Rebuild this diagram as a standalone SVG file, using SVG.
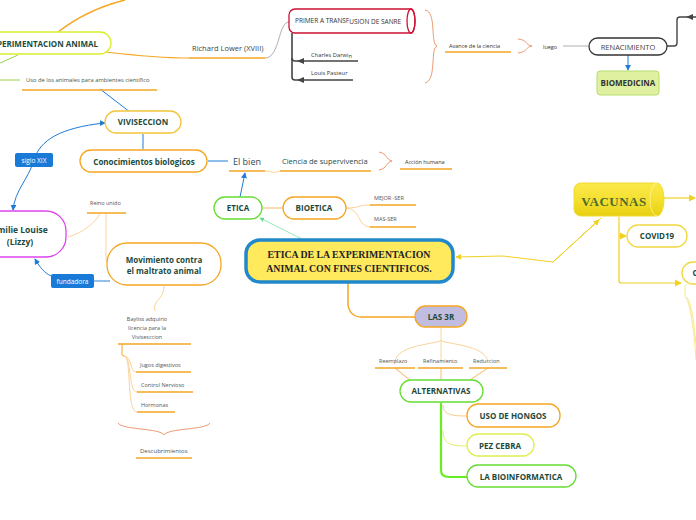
<svg xmlns="http://www.w3.org/2000/svg" width="696" height="520" viewBox="0 0 696 520">
<defs>
<style>
text{font-family:"Open Sans","DejaVu Sans",sans-serif}
.b{font-weight:bold;fill:#1d4a3c;font-size:8px;text-anchor:middle}
.s{fill:#555;font-size:5.5px}
.node{fill:#fff;stroke-width:1.3}
.or{stroke:#f5a623}
.gr{stroke:#66dd33}
.yl{stroke:#f0d840}
.ul{stroke:#f5a623;stroke-width:1.6;fill:none}
.lo{stroke:#fbd39a;stroke-width:1;fill:none}
.bl{stroke:#1f7ad8;stroke-width:1;fill:none}
.br{stroke:#ec9a72;stroke-width:1;fill:none}
</style>
<marker id="ab" viewBox="0 0 8 8" refX="7" refY="4" markerWidth="6" markerHeight="6" orient="auto"><path d="M0,0L8,4L0,8z" fill="#1f7ad8"/></marker>
<marker id="ay" viewBox="0 0 8 8" refX="7" refY="4" markerWidth="6" markerHeight="6" orient="auto"><path d="M0,0L8,4L0,8z" fill="#f0d020"/></marker>
<marker id="ag" viewBox="0 0 8 8" refX="7" refY="4" markerWidth="6" markerHeight="6" orient="auto"><path d="M0,0L8,4L0,8z" fill="#66dd88"/></marker>
<linearGradient id="vg" x1="0" y1="0" x2="0" y2="1"><stop offset="0" stop-color="#fbe94a"/><stop offset="0.5" stop-color="#f5e030"/><stop offset="1" stop-color="#e8cf10"/></linearGradient>
</defs>

<g id="connectors">
<path d="M58,32 C80,15 105,5 125,0" stroke="#f5a623" stroke-width="1.5" fill="none"/>
<path d="M106,52 C140,56 160,58 189,58" stroke="#f5a623" stroke-width="1.2" fill="none"/>
<path d="M265,58 C280,58 278,22 289,22" stroke="#999" stroke-width="0.8" fill="none"/>
<path d="M18,55 L0,63" stroke="#9bd24a" stroke-width="1" fill="none"/>
<path d="M0,80 L20,80" stroke="#9bd24a" stroke-width="1" fill="none"/>
<path d="M100,89 L130,112" class="bl"/>
<path d="M292,33 L292,77 Q292,80 295,80 L353,80" stroke="#444" stroke-width="1.6" fill="none"/>
<path d="M292,58 Q292,61 295,61 L358,61" stroke="#444" stroke-width="1.6" fill="none"/>
<path d="M304,58 L297,61 L304,64z" fill="#444"/>
<path d="M304,77 L297,80 L304,83z" fill="#444"/>
<path d="M563,46 L588,46" stroke="#999" stroke-width="0.8"/>
<path d="M667,46 L674,46 Q677,46 677,43 L677,20 Q677,17 680,17 L696,17" stroke="#444" stroke-width="1.4" fill="none"/>
<path d="M693,14 L686,17 L693,20z" fill="#444"/>
<path d="M628,55 L628,70" class="bl" marker-end="url(#ab)"/>
<path d="M143,134 L143,149" class="bl"/>
<path d="M208,161 L228,161" class="bl"/>
<path d="M265,171 C272,171 272,174 280,171" class="lo"/>
<path d="M240,197 L245,173" class="bl" marker-end="url(#ab)"/>
<path d="M262,208 L283,208" stroke="#fbc88a" stroke-width="1.3"/>
<path d="M346,208 C360,208 358,205 370,205" class="lo"/>
<path d="M346,208 C360,208 358,227 370,227" class="lo"/>
<path d="M302,239 L260,218" stroke="#77e0a0" stroke-width="0.8" fill="none" marker-end="url(#ag)"/>
<path d="M601,218 L553,262 L503,256 L456,257" stroke="#f0d020" stroke-width="1" fill="none" marker-end="url(#ay)"/>
<path d="M553,262 L599,220" stroke="#f0d020" stroke-width="1" fill="none" marker-end="url(#ay)"/>
<path d="M664,198 L695,198" stroke="#f0d020" stroke-width="1.2" fill="none" marker-end="url(#ay)"/>
<path d="M619,217 L619,281 Q619,283 622,283 L681,283" stroke="#f0d020" stroke-width="1.2" fill="none" marker-end="url(#ay)"/>
<path d="M619,236 L626,236" stroke="#f0d020" stroke-width="1.2" fill="none" marker-end="url(#ay)"/>
<path d="M685,285 L685,297 C690,300 694,330 696,360" stroke="#f7e88a" stroke-width="1" fill="none"/>
<path d="M687,297 C692,305 695,330 696,345" stroke="#f7e88a" stroke-width="1" fill="none"/>
<path d="M348,283 L348,305 Q350,317 362,317 L415,317" stroke="#f5a623" stroke-width="1.5" fill="none"/>
<path d="M441,328 L441,340 C441,344 396,344 395,362" class="lo"/>
<path d="M441,340 C441,346 441,352 441,362" class="lo"/>
<path d="M441,340 C441,344 486,344 488,362" class="lo"/>
<path d="M395,368 L410,380 M441,368 L441,380 M488,368 L470,380" stroke="#fbc88a" stroke-width="1.2" fill="none"/>
<path d="M441,403 L441,470 Q441,477 449,477 L467,477" stroke="#66ee22" stroke-width="2.2" fill="none"/>
<path d="M443,405 C443,414 450,416 467,416" stroke="#fbc88a" stroke-width="1" fill="none"/>
<path d="M443,430 C443,444 450,446 467,446" stroke="#e8f060" stroke-width="1" fill="none"/>
<path d="M104,123 C60,128 40,140 34,160 C28,180 15,190 13,210" class="bl" marker-end="url(#ab)"/>
<path d="M104,123 L105,123" class="bl" marker-end="url(#ab)"/>
<path d="M110,281 C100,281 98,281 94,281" class="bl"/>
<path d="M51,276 C45,273 40,268 35,259" class="bl" marker-end="url(#ab)"/>
<path d="M68,237 C85,232 95,222 100,214" class="lo"/>
<path d="M106,213 L106,258 Q106,263 108,263" class="lo"/>
<path d="M164,286 C164,300 152,300 155,311" class="lo"/>
<path d="M122,344 L122,354 Q122,356 124,356" stroke="#f5a623" stroke-width="1" fill="none"/>
<path d="M124,356 C132,356 130,372 136,372" class="lo"/>
<path d="M124,356 C132,356 128,392 137,392" class="lo"/>
<path d="M124,356 C132,356 126,412 137,412" class="lo"/>
</g>

<g id="n-experimentacion">
<rect x="-30" y="32" width="141" height="22" rx="11" class="node" stroke="#d8ee30" stroke-width="1.3"/>
<text x="98" y="46.5" class="b" style="text-anchor:end;font-size:8px">EXPERIMENTACION ANIMAL</text>
</g>
<g id="n-richard">
<text x="192" y="51" style="font-size:7.5px;fill:#444">Richard Lower (XVIII)</text>
<path d="M189,58 L265,58" class="ul"/>
</g>
<g id="n-uso">
<text x="26" y="82" style="font-size:5.8px;fill:#3a5a50">Uso de los animales para ambientes cientifico</text>
<path d="M22,90 L157,90" class="ul"/>
</g>
<g id="n-primer">
<path d="M295,9 L411,9 A4,12 0 0 1 411,33 L295,33 A6,6 0 0 1 289,27 L289,15 A6,6 0 0 1 295,9z" fill="#fff" stroke="#cc1133" stroke-width="1.3"/>
<ellipse cx="411" cy="21" rx="4" ry="12" fill="none" stroke="#cc1133" stroke-width="1.3"/>
<text x="295" y="22.5" style="font-size:6.5px;fill:#333">PRIMER A TRANSF<tspan dy="1">USION DE SANRE</tspan></text>
</g>
<g id="n-darwin"><text x="311" y="57" style="font-size:5.8px;fill:#333">Charles Darwi<tspan dy="1">n</tspan></text></g>
<g id="n-pasteur"><text x="311" y="75" style="font-size:5.8px;fill:#333">Louis Pasteur</text></g>
<g id="n-avance">
<path d="M425,10 C437,12 430,44 437,46 C430,48 437,80 425,83" class="br"/>
<text x="449" y="48" class="s" style="fill:#333">Avance de la ciencia</text>
<path d="M445,52 L511,52" class="ul"/>
</g>
<g id="n-luego">
<path d="M518,39 C528,40 525,45 532,46 C525,47 528,52 518,53" class="br"/>
<text x="543" y="49" class="s" style="fill:#333">luego</text>
</g>
<g id="n-renacimiento">
<rect x="589" y="38" width="78" height="17" rx="8.5" fill="#fff" stroke="#333" stroke-width="1.3"/>
<text x="628" y="49.5" style="font-size:7.5px;fill:#444;text-anchor:middle">RENACIMIENTO</text>
</g>
<g id="n-biomedicina">
<rect x="597" y="71" width="62" height="24" rx="3" fill="#dff0a0" stroke="#b8dc70" stroke-width="1"/>
<text x="628" y="86" class="b" style="fill:#333">BIOMEDICINA</text>
</g>
<g id="n-viviseccion">
<rect x="105" y="111" width="76" height="22" rx="11" class="node" stroke="#f2c53a"/>
<text x="143" y="125" class="b">VIVISECCION</text>
</g>
<g id="n-conocimientos">
<rect x="80" y="150" width="127" height="22" rx="11" class="node or"/>
<text x="144" y="164.5" class="b">Conocimientos biologicos</text>
</g>
<g id="n-elbien">
<text x="233" y="165" style="font-size:9px;fill:#2a4a5a">El bien</text>
<path d="M229,171 L265,171" class="ul"/>
</g>
<g id="n-ciencia">
<text x="282" y="164" style="font-size:7.5px;fill:#2a4a40">Ciencia de supervivencia</text>
<path d="M280,171 L371,171" class="ul"/>
</g>
<g id="n-accion">
<path d="M379,152 C388,154 385,159 392,161 C385,163 388,168 379,170" class="br"/>
<text x="405" y="164" class="s" style="fill:#333">Acción humana</text>
<path d="M400,169 L452,169" class="ul"/>
</g>
<g id="n-etica">
<rect x="214" y="197" width="48" height="22" rx="11" class="node gr"/>
<text x="238" y="211" class="b">ETICA</text>
</g>
<g id="n-bioetica">
<rect x="283" y="197" width="63" height="22" rx="11" class="node or"/>
<text x="314" y="211" class="b">BIOETICA</text>
</g>
<g id="n-mejor">
<text x="374" y="200" class="s">MEJOR -SER</text>
<path d="M370,205 L416,205" class="ul"/>
</g>
<g id="n-mas">
<text x="374" y="221" class="s">MAS-SER</text>
<path d="M370,227 L416,227" class="ul"/>
</g>
<g id="n-central">
<rect x="246" y="240" width="207" height="42" rx="14" fill="#ffe95c" stroke="#2288cc" stroke-width="3.5"/>
<text x="349" y="258" style="font-family:'Liberation Serif','DejaVu Serif',serif;font-weight:bold;font-size:9.8px;fill:#222;text-anchor:middle">ETICA DE LA EXPERIMENTACION</text>
<text x="349" y="272" style="font-family:'Liberation Serif','DejaVu Serif',serif;font-weight:bold;font-size:9.8px;fill:#222;text-anchor:middle">ANIMAL CON FINES CIENTIFICOS.</text>
</g>
<g id="n-vacunas">
<path d="M581,183 L657,183 A7,16.5 0 0 1 657,216 L581,216 A7,7 0 0 1 574,209 L574,190 A7,7 0 0 1 581,183z" fill="url(#vg)" stroke="#f0da30" stroke-width="1"/>
<path d="M657,183 A7,16.5 0 0 0 657,216" fill="none" stroke="#fff59a" stroke-width="0.8"/>
<text x="614" y="206" style="font-family:'Liberation Serif','DejaVu Serif',serif;font-weight:bold;font-size:13px;fill:#4a6a30;text-anchor:middle;letter-spacing:0.5px">VACUNAS</text>
</g>
<g id="n-covid">
<rect x="627" y="225" width="60" height="22" rx="11" class="node yl"/>
<text x="657" y="239" class="b">COVID19</text>
</g>
<g id="n-right">
<rect x="682" y="262" width="40" height="22" rx="11" class="node yl"/>
<text x="695" y="276" class="b">C</text>
</g>
<g id="n-las3r">
<rect x="415" y="306" width="52" height="21" rx="10.5" fill="#c0bde0" stroke="#f5a623" stroke-width="1.3"/>
<text x="441" y="320" class="b">LAS 3R</text>
</g>
<g id="n-reemplazo"><text x="379" y="363" class="s">Reemplazo</text><path d="M375,368 L415,368" class="ul"/></g>
<g id="n-refinamiento"><text x="423" y="363" class="s">Refinamiento</text><path d="M418,368 L463,368" class="ul"/></g>
<g id="n-reduccion"><text x="473" y="363" class="s">Reduccion</text><path d="M469,368 L507,368" class="ul"/></g>
<g id="n-alternativas">
<rect x="400" y="380" width="83" height="22" rx="11" class="node gr"/>
<text x="441" y="394" class="b">ALTERNATIVAS</text>
</g>
<g id="n-hongos">
<rect x="467" y="404" width="93" height="23" rx="11" class="node or"/>
<text x="513" y="419" class="b">USO DE HONGOS</text>
</g>
<g id="n-pez">
<rect x="467" y="434" width="67" height="22" rx="11" class="node" stroke="#e0ee50"/>
<text x="500" y="448.5" class="b">PEZ CEBRA</text>
</g>
<g id="n-bioinformatica">
<rect x="467" y="465" width="109" height="22" rx="11" class="node gr"/>
<text x="521" y="480" class="b">LA BIOINFORMATICA</text>
</g>
<g id="n-siglo">
<rect x="15" y="153" width="38" height="14" rx="2" fill="#1a7ad8"/>
<text x="34" y="162.5" style="font-size:6.5px;fill:#fff;text-anchor:middle">siglo XIX</text>
</g>
<g id="n-emilie">
<rect x="-40" y="211" width="106" height="46" rx="20" class="node" stroke="#dd44ee"/>
<text x="20" y="233" class="b" style="font-size:8.5px">Emilie Louise</text>
<text x="20" y="245" class="b" style="font-size:8.5px">(Lizzy)</text>
</g>
<g id="n-reino">
<text x="90" y="205" class="s">Reino unido</text>
<path d="M87,213 L126,213" class="ul"/>
</g>
<g id="n-fundadora">
<rect x="51" y="274" width="43" height="14" rx="2" fill="#1a7ad8"/>
<text x="72.5" y="283.5" style="font-size:6.5px;fill:#fff;text-anchor:middle">fundadora</text>
</g>
<g id="n-movimiento">
<rect x="107" y="243" width="114" height="42" rx="20" class="node or"/>
<text x="164" y="263" class="b">Movimiento contra</text>
<text x="164" y="274" class="b">el maltrato animal</text>
</g>
<g id="n-bayliss">
<text x="147" y="321" class="s" style="text-anchor:middle">Bayliss adquirio</text>
<text x="147" y="330" class="s" style="text-anchor:middle">licencia para la</text>
<text x="147" y="339" class="s" style="text-anchor:middle">Vivisesccion</text>
<path d="M118,344 L191,344" class="ul"/>
</g>
<g id="n-jugos"><text x="140" y="367" class="s">Jugos digestivos</text><path d="M136,372 L191,372" class="ul"/></g>
<g id="n-control"><text x="141" y="387" class="s">Control Nervioso</text><path d="M137,392 L193,392" class="ul"/></g>
<g id="n-hormonas"><text x="141" y="407" class="s">Hormonas</text><path d="M137,412 L175,412" class="ul"/></g>
<g id="n-descubrimientos">
<path d="M118,423 C122,430 160,428 164,435 C168,428 206,430 210,423" class="br"/>
<text x="140" y="453" class="s" style="font-size:6px">Descubrimientos</text>
<path d="M136,458 L192,458" class="ul"/>
</g>
</svg>
